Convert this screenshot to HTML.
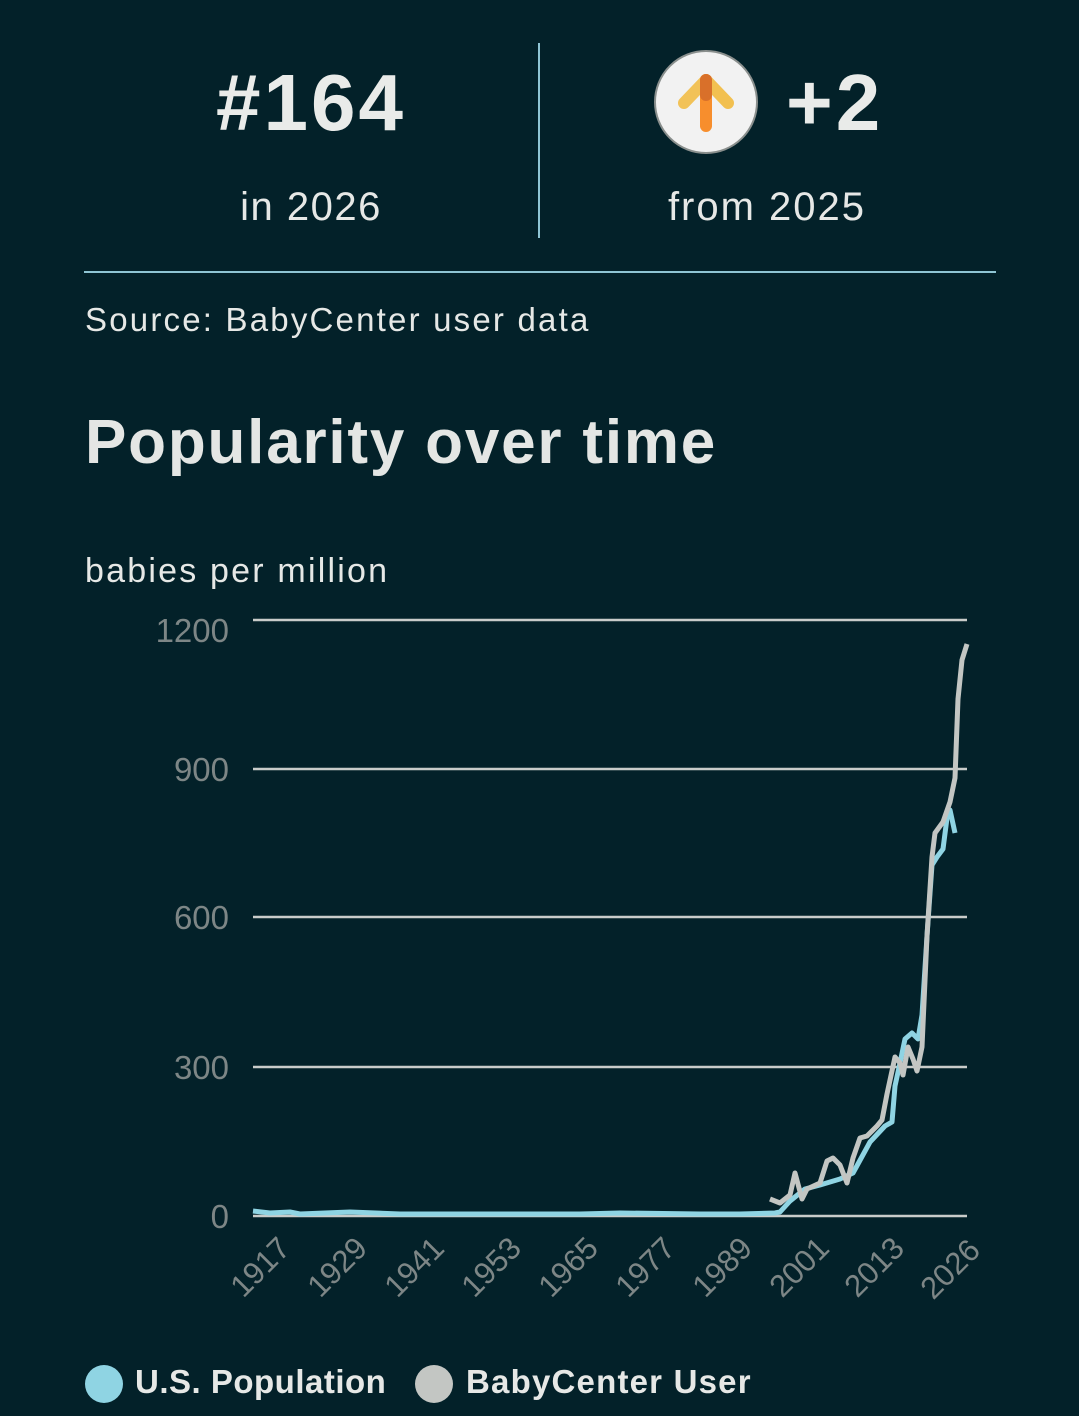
<!DOCTYPE html>
<html><head><meta charset="utf-8"><style>
body{margin:0;background:#032129;width:1079px;height:1416px;overflow:hidden;font-family:"Liberation Sans",sans-serif;color:#e6e8e6}
.a{position:absolute}
</style></head><body>
<div class="a" style="left:0;top:58px;width:622px;text-align:center;font-size:80px;font-weight:bold;line-height:90px;letter-spacing:3px;color:#e9ebe9">#164</div>
<div class="a" style="left:0;top:182px;width:622px;text-align:center;font-size:40px;line-height:50px;letter-spacing:1.5px">in 2026</div>
<div class="a" style="left:538px;top:43px;width:2px;height:195px;background:#8fc5d4"></div>
<div class="a" style="left:654px;top:50px;width:100px;height:100px;border-radius:50%;background:#f2f2f2;border:2px solid #8a8f8d"></div>
<svg class="a" style="left:654px;top:50px" width="104" height="104"><path d="M52 30 L30 53" stroke="#f2c050" stroke-width="12" stroke-linecap="round" opacity=".95"/><path d="M52 30 L74 53" stroke="#f2c050" stroke-width="12" stroke-linecap="round"/><path d="M52 30 L52 76" stroke="#f78e2d" stroke-width="12" stroke-linecap="round"/><path d="M52 30 L52 45" stroke="#d9702a" stroke-width="12" stroke-linecap="round"/></svg>
<div class="a" style="left:786px;top:58px;font-size:80px;font-weight:bold;line-height:90px;letter-spacing:3px;color:#e9ebe9">+2</div>
<div class="a" style="left:540px;top:182px;width:454px;text-align:center;font-size:40px;line-height:50px;letter-spacing:2px">from 2025</div>
<div class="a" style="left:84px;top:271px;width:912px;height:2px;background:#8fc5d4"></div>
<div class="a" style="left:85px;top:300px;font-size:33px;line-height:40px;letter-spacing:2.2px">Source: BabyCenter user data</div>
<div class="a" style="left:85px;top:405px;font-size:62px;line-height:75px;font-weight:bold;letter-spacing:1.8px;color:#e4e6e4">Popularity over time</div>
<div class="a" style="left:85px;top:550px;font-size:34px;line-height:42px;letter-spacing:2.2px">babies per million</div>
<svg class="a" style="left:0;top:0" width="1079" height="1416">
<g stroke="#c9ccca" stroke-width="2.5">
<line x1="253" y1="620" x2="967" y2="620"/><line x1="253" y1="769" x2="967" y2="769"/><line x1="253" y1="917" x2="967" y2="917"/><line x1="253" y1="1067" x2="967" y2="1067"/><line x1="253" y1="1216" x2="967" y2="1216"/>
</g>
<g fill="#7d8686" font-size="33" text-anchor="end" font-family="Liberation Sans">
<text x="229" y="642">1200</text><text x="229" y="781">900</text><text x="229" y="929">600</text><text x="229" y="1079">300</text><text x="229" y="1228">0</text>
</g>
<g fill="#7d8686" font-size="31" text-anchor="end" font-family="Liberation Sans">
<text transform="translate(292,1250) rotate(-45)">1917</text>
<text transform="translate(369,1250) rotate(-45)">1929</text>
<text transform="translate(446,1250) rotate(-45)">1941</text>
<text transform="translate(523,1250) rotate(-45)">1953</text>
<text transform="translate(600,1250) rotate(-45)">1965</text>
<text transform="translate(677,1250) rotate(-45)">1977</text>
<text transform="translate(754,1250) rotate(-45)">1989</text>
<text transform="translate(831,1250) rotate(-45)">2001</text>
<text transform="translate(906,1250) rotate(-45)">2013</text>
<text transform="translate(982,1252) rotate(-45)">2026</text>
</g>
<polyline fill="none" stroke="#8fd4e3" stroke-width="5" stroke-linejoin="round" points="253,1211 270,1213 290,1212 300,1214 350,1212 400,1214 500,1214 580,1214 620,1213 700,1214 740,1214 775,1213 780,1212 790,1201 805,1189 820,1185 840,1179 853,1173 870,1142 885,1126 892,1122 895,1086 900,1063 905,1039 912,1033 918,1039 922,1015 927,936 932,865 937,857 943,849 947,818 950,810 955,833"/>
<polyline fill="none" stroke="#c3c6c3" stroke-width="5" stroke-linejoin="round" points="770,1199 780,1203 790,1195 795,1173 802,1199 807,1189 820,1183 827,1161 833,1158 840,1165 847,1183 853,1158 860,1138 867,1136 877,1126 882,1120 887,1094 895,1057 900,1063 903,1075 908,1047 913,1059 917,1071 922,1047 927,936 932,857 935,833 943,822 950,802 955,778 958,699 962,660 967,644"/>
<circle cx="104" cy="1384" r="19" fill="#8fd4e3"/>
<circle cx="434" cy="1384" r="19" fill="#c3c6c3"/>
</svg>
<div class="a" style="left:135px;top:1362px;font-size:33px;line-height:40px;font-weight:bold;letter-spacing:0.5px">U.S. Population</div>
<div class="a" style="left:466px;top:1362px;font-size:33px;line-height:40px;font-weight:bold;letter-spacing:1.2px">BabyCenter User</div>
</body></html>
